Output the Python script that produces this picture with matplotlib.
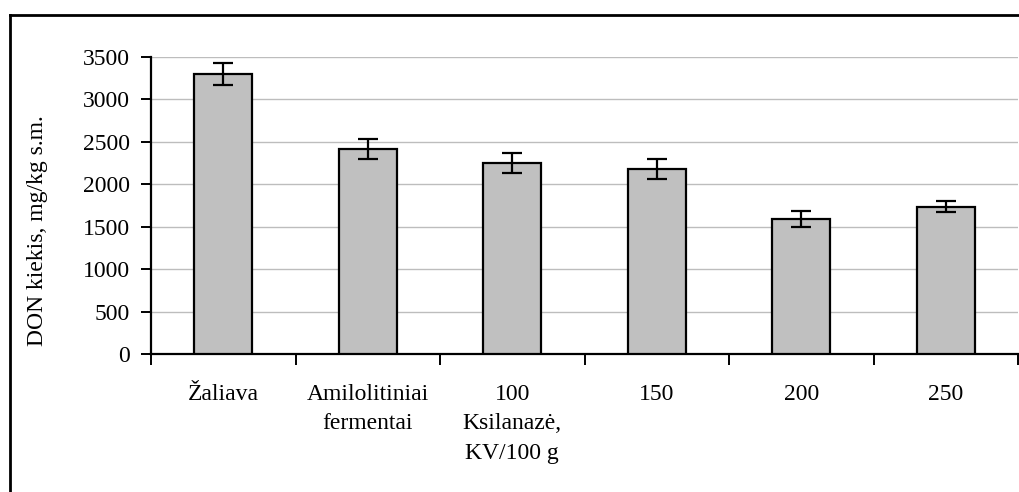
import matplotlib.pyplot as plt
from matplotlib.lines import Line2D
import numpy as np

# Data
categories = ['Žaliava', 'Amilolitiniai\nfermentai', '100\nKsilanazė,\nKV/100 g',
              '150', '200', '250']
don_values = [3295, 2420, 2250, 2185, 1590, 1735]
don_errors = [130, 118, 118, 118, 98, 63]

plt.rcParams['font.family'] = ['Liberation Serif', 'DejaVu Serif']
plt.rcParams['font.size'] = 17

fig = plt.figure(figsize=(10.19, 4.92), dpi=100)
ax = fig.add_axes([151 / 1019, 1 - 354 / 492, (1018 - 151) / 1019, (354 - 57) / 492])

x = np.arange(len(categories))
ax.bar(x, don_values, width=0.4, color='#c0c0c0', edgecolor='black', linewidth=1.6,
       zorder=3)
ax.errorbar(x, don_values, yerr=don_errors, fmt='none', ecolor='black',
            elinewidth=1.6, capsize=7, capthick=1.6, zorder=4)

ax.set_xlim(-0.5, len(categories) - 0.5)
ax.set_ylim(0, 3500)
ax.set_yticks(range(0, 3501, 500))
ax.yaxis.grid(True, color='#bdbdbd', linewidth=1.0, zorder=0)

ax.set_xticks(x)
ax.set_xticklabels(categories, linespacing=1.52, va='top')
ax.tick_params(axis='x', length=0, pad=21.5)
ax.set_xticks(np.arange(-0.5, len(categories), 1), minor=True)
ax.tick_params(axis='x', which='minor', length=8, width=1.4, direction='out')
ax.tick_params(axis='y', length=7, width=1.4, direction='out', pad=8)

for side in ['top', 'right']:
    ax.spines[side].set_visible(False)
for side in ['left', 'bottom']:
    ax.spines[side].set_linewidth(1.6)

ax.set_ylabel('DON kiekis, mg/kg s.m.')
ax.yaxis.set_label_coords(-0.119, 0.414)

# outer chart frame
fig.add_artist(Line2D([9.5 / 1019, 9.5 / 1019], [0, 1 - 14.5 / 492], color='black',
                      linewidth=2, transform=fig.transFigure))
fig.add_artist(Line2D([9.5 / 1019, 1], [1 - 14.5 / 492, 1 - 14.5 / 492], color='black',
                      linewidth=2, transform=fig.transFigure))

fig.savefig('out.png', dpi=100)
